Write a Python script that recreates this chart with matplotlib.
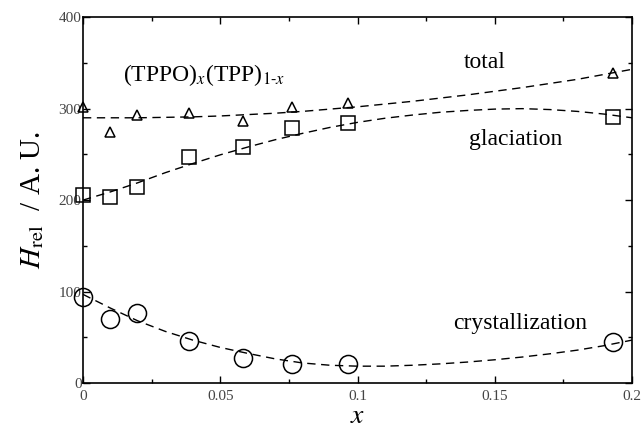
import numpy as np
import matplotlib
matplotlib.use("Agg")
from matplotlib import pyplot as plt
from matplotlib.ticker import MultipleLocator

# Dati
x_pts = [0.0, 0.0098, 0.0197, 0.0385, 0.0584, 0.0763, 0.0964, 0.193]
total = [302, 274, 293, 295, 286, 302, 306, 339]
glaciation = [206, 203, 214, 247, 258, 279, 284, 291]
crystallization = [94, 70, 77, 46, 27, 21, 21, 45]

# Curve di fit (tratteggiate)
x_fit = [0.0, 0.01, 0.02, 0.03, 0.04, 0.05, 0.06, 0.07, 0.08, 0.09, 0.1,
         0.11, 0.12, 0.13, 0.14, 0.15, 0.16, 0.17, 0.18, 0.19, 0.2]
total_fit = [290, 290, 290, 290.5, 291, 292, 293.5, 295, 297, 299.5, 302,
             305, 308, 311.5, 315, 319, 323, 327.5, 332, 337.5, 343]
glac_fit = [200, 209, 219, 230, 240, 249.5, 258, 266, 273, 279.5, 285,
            289.5, 293, 296, 298, 299.5, 300, 299, 297, 294, 290]
cryst_fit = [97, 82, 68, 56.5, 47, 39, 32.5, 26.5, 22, 19.5, 18.5,
             18.5, 19.5, 21, 23, 25.5, 28.5, 32, 36, 41, 47]


def main() -> None:
    plt.rcParams["mathtext.fontset"] = "stix"
    plt.rcParams["font.family"] = "Liberation Serif"

    fig = plt.figure(figsize=(6.43, 4.29), dpi=100)
    ax = fig.add_axes([0.129, 0.107, 0.854, 0.853])

    dash = dict(color="black", lw=1.0, ls=(0, (6, 4)))
    ax.plot(x_fit, total_fit, **dash)
    ax.plot(x_fit, glac_fit, **dash)
    ax.plot(x_fit, cryst_fit, **dash)

    ax.plot(x_pts, total, "^", ms=7, mfc="none", mec="black", mew=1.1, clip_on=False)
    ax.plot(x_pts, glaciation, "s", ms=10, mfc="none", mec="black", mew=1.1, clip_on=False)
    ax.plot(x_pts, crystallization, "o", ms=13, mfc="none", mec="black", mew=1.1, clip_on=False)

    ax.set_xlim(0, 0.2)
    ax.set_ylim(0, 400)
    ax.xaxis.set_major_locator(MultipleLocator(0.05))
    ax.xaxis.set_minor_locator(MultipleLocator(0.025))
    ax.yaxis.set_major_locator(MultipleLocator(100))
    ax.yaxis.set_minor_locator(MultipleLocator(50))
    ax.set_xticks([0, 0.05, 0.1, 0.15, 0.2])
    ax.set_xticklabels(["0", "0.05", "0.1", "0.15", "0.2"])
    ax.tick_params(which="both", direction="in", top=True, right=True,
                   labelsize=11, labelcolor="#444444", width=1.0)
    ax.tick_params(which="major", length=5)
    ax.tick_params(which="minor", length=3)
    ax.tick_params(axis="x", pad=5)
    ax.tick_params(axis="y", pad=1)
    for s in ax.spines.values():
        s.set_linewidth(1.2)

    ax.set_xlabel(r"$x$", fontsize=20, labelpad=1)
    ax.set_ylabel(r"$H_{\mathrm{rel}}$  / A. U.", fontsize=21, labelpad=9)

    ax.text(0.0146, 337, r"(TPPO)$_{x}$(TPP)$_{1\text{-}x}$", fontsize=17, va="center")
    ax.text(0.1388, 350, "total", fontsize=17, va="center")
    ax.text(0.1405, 266, "glaciation", fontsize=17, va="center")
    ax.text(0.1350, 65, "crystallization", fontsize=17, va="center")

    plt.savefig("out.png", dpi=100)


if __name__ == "__main__":
    main()
